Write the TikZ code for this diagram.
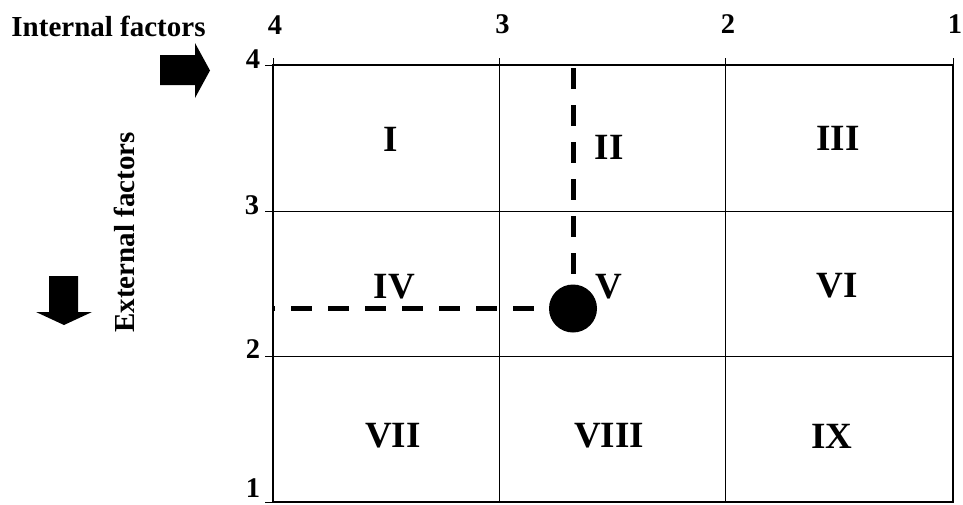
\documentclass[tikz,border=0pt]{standalone}
\usepackage{fontspec}
\setmainfont{Liberation Serif}
\begin{document}
\begin{tikzpicture}[x=1pt,y=-1pt,
  lbl/.style={font=\bfseries\fontsize{29}{29}\selectfont, inner sep=0pt},
  num/.style={font=\bfseries\fontsize{28.5}{28.5}\selectfont, inner sep=0pt},
  cell/.style={font=\bfseries\fontsize{37}{37}\selectfont, inner sep=0pt},
  frame/.style={line width=1.5pt},
  inner/.style={line width=0.8pt},
  tick/.style={line width=0.8pt},
  dashline/.style={line width=5pt, dash pattern=on 21pt off 16pt},
  blockarrow/.style={fill=black, draw=none}]
\useasboundingbox (0,0) rectangle (963,504);
% grid coordinates
\coordinate (g00) at (273,65);
\coordinate (g30) at (953,65);
\coordinate (g33) at (953,502);
\coordinate (g03) at (273,502);
\coordinate (c1t) at (499,65);  \coordinate (c1b) at (499,502);
\coordinate (c2t) at (725,65);  \coordinate (c2b) at (725,502);
\coordinate (r1l) at (273,211); \coordinate (r1r) at (953,211);
\coordinate (r2l) at (273,356); \coordinate (r2r) at (953,356);
% inner lines
\draw[inner] (c1t) -- (c1b);
\draw[inner] (c2t) -- (c2b);
\draw[inner] (r1l) -- (r1r);
\draw[inner] (r2l) -- (r2r);
% frame
\draw[frame] (g00) -- (g30) -- (g33) -- (g03) -- cycle;
% ticks
\draw[tick] (g00) -- ++(0,-7);
\draw[tick] (c1t) -- ++(0,-7);
\draw[tick] (c2t) -- ++(0,-7);
\draw[tick] (g30) -- ++(0,-7);
\draw[tick] (g00) -- ++(-8,0);
\draw[tick] (r1l) -- ++(-8,0);
\draw[tick] (r2l) -- ++(-8,0);
\draw[tick] (g03) -- ++(-8,0);
% axis numbers
\node[num] (t4) at (275,25.5) {4};
\node[num] (t3) at (502.5,24) {3};
\node[num] (t2) at (728,24) {2};
\node[num] (t1) at (955,24) {1};
\node[num] (l4) at (253,59) {4};
\node[num] (l3) at (252,205) {3};
\node[num] (l2) at (253,349) {2};
\node[num] (l1) at (253,488) {1};
% axis titles
\node[lbl] (internal) at (108.5,26) {Internal factors};
\node[lbl, rotate=90] (external) at (124.5,232.5) {External factors};
% block arrows
\fill[blockarrow] (160,55) -- (195,55) -- (195,43) -- (210,70.5) -- (195,98) -- (195,85) -- (160,85) -- cycle;
\fill[blockarrow] (49,276) -- (78,276) -- (78,312) -- (92,312) -- (64,325) -- (36,312) -- (49,312) -- cycle;
% cell labels
\node[cell] (cI)    at (391,139) {I};
\node[cell] (cII)   at (609,147) {II};
\node[cell] (cIII)  at (838,138) {III};
\node[cell] (cIV)   at (394.5,287) {IV};
\node[cell] (cV)    at (609,287) {V};
\node[cell] (cVI)   at (837,286) {VI};
\node[cell] (cVII)  at (393,435.5) {VII};
\node[cell] (cVIII) at (609,436) {VIII};
\node[cell] (cIX)   at (832,436) {IX};
% position dot and dashed guides
\node[circle, fill=black, inner sep=0pt, minimum size=48pt] (dot) at (573,308.5) {};
\coordinate (vtop) at (573,68);
\coordinate (hleft) at (273,308.5);
\draw[dashline] (vtop) -- (dot.north) [shorten >=10pt];
\draw[dashline, dash phase=19pt, shorten >=13pt] (hleft) -- (dot.west);
\end{tikzpicture}
\end{document}
